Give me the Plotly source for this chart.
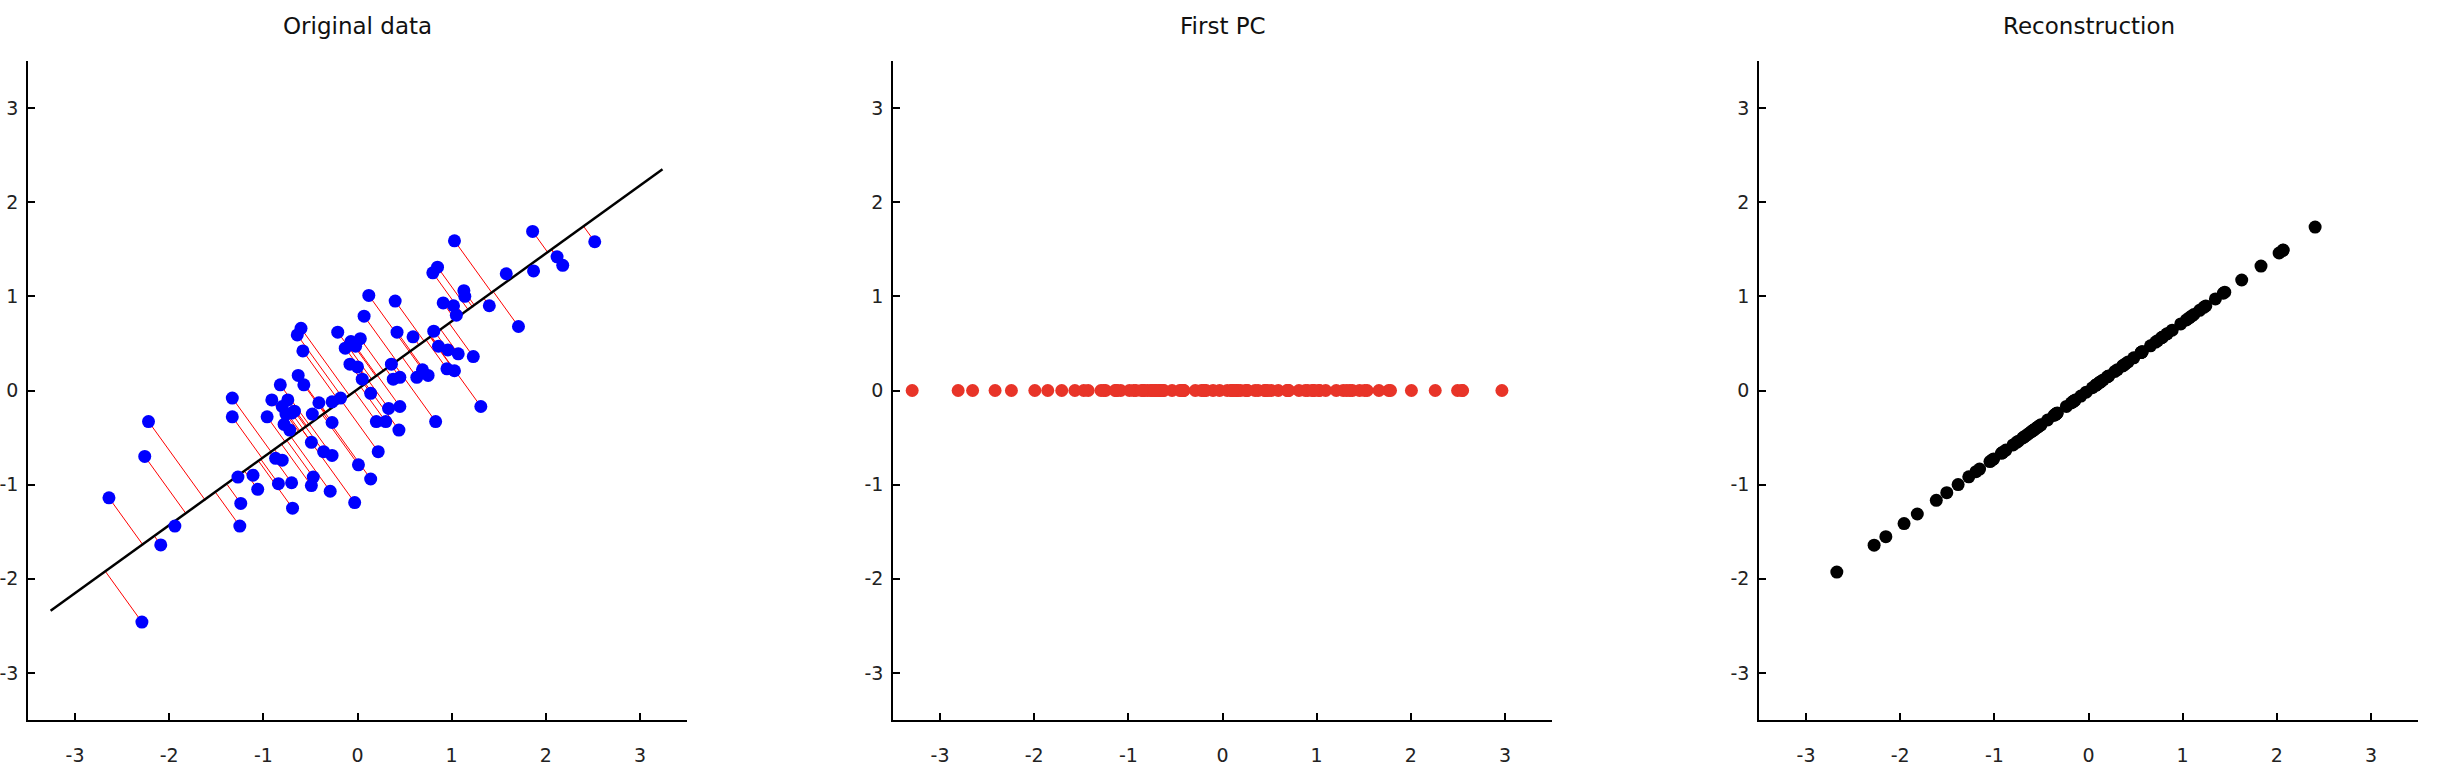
import plotly.graph_objects as go

# Original data
orig_x = [-2.64, -2.29, -2.22, -2.26, -2.09, -1.94,
          -1.33, -1.33, -1.27, -1.24, -1.25, -1.11, -1.06,
          -0.96, -0.91, -0.82, -0.87, -0.80, -0.84, -0.70, -0.69,
          -0.74, -0.80, -0.76, -0.70, -0.78, -0.72, -0.67,
          -0.64, -0.60, -0.58, -0.63, -0.57,
          -0.48, -0.49, -0.41, -0.47, -0.49, -0.36, -0.27, -0.29, -0.27, -0.27, -0.18,
          -0.21, -0.13, -0.07, -0.02, 0.03, -0.08, 0.00,
          0.01, -0.03, 0.07, 0.12, 0.05, 0.14, 0.20, 0.22, 0.14,
          0.33, 0.30, 0.36, 0.38, 0.45, 0.45, 0.44,
          0.40, 0.42, 0.59, 0.63, 0.69, 0.75, 0.81, 0.86, 0.83,
          0.80, 0.85, 0.91, 0.96, 0.95, 1.03, 1.02, 1.05, 1.03, 1.07, 1.13, 1.14,
          1.23, 1.31, 1.40, 1.58, 1.71, 1.86, 1.87, 2.12, 2.18, 2.52]
orig_y = [-1.14, -2.46, -0.33, -0.70, -1.64, -1.44,
          -0.08, -0.28, -0.92, -1.20, -1.44, -0.90, -1.05,
          -0.28, -0.10, 0.06, -0.72, -0.74, -0.99, -0.98, -1.25,
          -0.10, -0.17, -0.25, -0.24, -0.36, -0.42, -0.22,
          0.59, 0.66, 0.42, 0.16, 0.06,
          -0.25, -0.55, -0.13, -0.92, -1.01, -0.65, -0.69, -1.07, -0.34, -0.12, -0.08,
          0.62, 0.45, 0.52, 0.47, 0.55, 0.28, 0.25,
          -0.79, -1.19, 0.79, 1.01, 0.12, -0.03, -0.33, -0.65, -0.94,
          -0.19, -0.33, 0.28, 0.12, 0.14, -0.17, -0.42,
          0.95, 0.62, 0.57, 0.14, 0.22, 0.16, 0.63, 0.47, -0.33,
          1.25, 1.31, 0.93, 0.43, 0.23, 0.21, 0.90, 0.80, 1.59, 0.39, 1.06, 1.00,
          0.36, -0.17, 0.90, 1.24, 0.68, 1.69, 1.27, 1.42, 1.33, 1.58]

# First principal direction
pc_dir = [0.811, 0.585]
line_x = [-3.26, 3.24]
line_y = [-2.34, 2.35]

tick_vals = [-3, -2, -1, 0, 1, 2, 3]
tick_text = ["-3", "-2", "-1", "0", "1", "2", "3"]
titles = ["Original data", "First PC", "Reconstruction"]

# projection scores onto the PC and reconstructions
scores = [x * pc_dir[0] + y * pc_dir[1] for x, y in zip(orig_x, orig_y)]
rec_x = [s * pc_dir[0] for s in scores]
rec_y = [s * pc_dir[1] for s in scores]

seg_x, seg_y = [], []
for x, y, rx, ry in zip(orig_x, orig_y, rec_x, rec_y):
    seg_x += [x, rx, None]
    seg_y += [y, ry, None]

W, H = 2452, 776
left_px = [28, 893, 1759]
width_px = 659
top_px, bot_px = 61, 720

fig = go.Figure()

fig.add_trace(go.Scatter(x=seg_x, y=seg_y, mode="lines",
                         line=dict(color="rgb(255,0,0)", width=1),
                         xaxis="x", yaxis="y", hoverinfo="skip"))
fig.add_trace(go.Scatter(x=line_x, y=line_y, mode="lines",
                         line=dict(color="black", width=2.5),
                         xaxis="x", yaxis="y"))
fig.add_trace(go.Scatter(x=orig_x, y=orig_y, mode="markers",
                         marker=dict(color="rgb(0,0,255)", size=13),
                         xaxis="x", yaxis="y"))
fig.add_trace(go.Scatter(x=scores, y=[0] * len(scores), mode="markers",
                         marker=dict(color="rgb(232,52,40)", size=13),
                         xaxis="x2", yaxis="y2"))
fig.add_trace(go.Scatter(x=rec_x, y=rec_y, mode="markers",
                         marker=dict(color="black", size=13),
                         xaxis="x3", yaxis="y3"))

axis_common = dict(range=[-3.5, 3.5], tickmode="array", tickvals=tick_vals,
                   ticktext=tick_text, ticks="inside", ticklen=7, tickwidth=1.5,
                   tickcolor="black", showline=True, linecolor="black", linewidth=1.5,
                   showgrid=False, zeroline=False, mirror=False, automargin=False,
                   tickfont=dict(family="DejaVu Sans", size=19, color="#222"))

layout = dict(width=W, height=H, margin=dict(l=0, r=0, t=0, b=0),
              paper_bgcolor="white", plot_bgcolor="white", showlegend=False,
              template="none")
annotations = []
for i in range(3):
    sfx = "" if i == 0 else str(i + 1)
    x0 = left_px[i] / W
    x1 = (left_px[i] + width_px) / W
    layout["xaxis" + sfx] = dict(axis_common, domain=[x0, x1],
                                 anchor="y" + sfx, ticklabelstandoff=17)
    layout["yaxis" + sfx] = dict(axis_common, domain=[1 - bot_px / H, 1 - top_px / H],
                                 anchor="x" + sfx, ticklabelstandoff=4)
    annotations.append(dict(text=titles[i], x=(x0 + x1) / 2, y=1 - 26 / H,
                            xref="paper", yref="paper", showarrow=False,
                            xanchor="center", yanchor="middle",
                            font=dict(family="DejaVu Sans", size=23, color="#111")))
layout["annotations"] = annotations
fig.update_layout(**layout)

fig.write_html("out.html", config={"displayModeBar": False},
               post_script="document.body.style.margin='0';document.body.style.overflow='hidden';")
